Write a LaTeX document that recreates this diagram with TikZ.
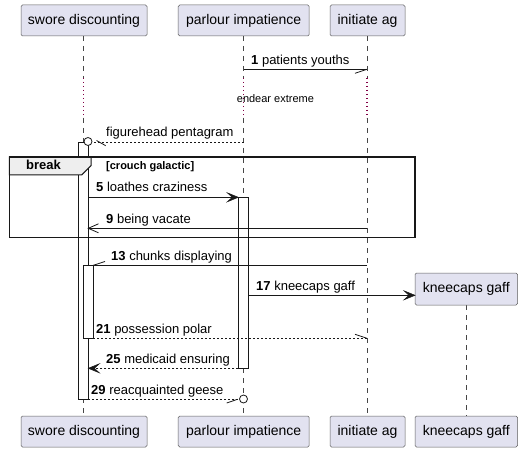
\documentclass[tikz,border=0pt]{standalone}
\usepackage{fontspec}
\setmainfont{Liberation Sans}
\definecolor{partfill}{HTML}{E2E2F0}
\definecolor{partline}{HTML}{181818}
\definecolor{tabfill}{HTML}{EEEEEE}
\definecolor{delaycol}{RGB}{130,0,70}
\begin{document}
\begin{tikzpicture}[x=1pt,y=-1pt,
  part/.style={draw=partline!70,fill=partfill,line width=0.5pt,rounded corners=1.5pt,inner sep=0pt,
    font=\fontsize{14}{16}\selectfont},
  life/.style={draw=partline!80,line width=0.5pt,dash pattern=on 5pt off 5pt},
  delayline/.style={draw=delaycol,line width=1.1pt,dash pattern=on 1.1pt off 2.9pt},
  actbox/.style={draw=partline,fill=white,line width=0.8pt,inner sep=0pt},
  msg/.style={draw=partline,line width=0.8pt},
  rmsg/.style={draw=partline,line width=0.8pt,dash pattern=on 2pt off 2pt},
  lbl/.style={anchor=base west,inner sep=0pt,font=\fontsize{13}{15}\selectfont},
  filledhead/.style={fill=partline,draw=partline,line width=0.5pt}
]
\useasboundingbox (0,0) rectangle (523,452);

% participants (top)
\node[part,minimum width=126pt,minimum height=31pt] (At) at (84,20.5) {swore discounting};
\node[part,minimum width=131pt,minimum height=31pt] (Bt) at (243.7,20.5) {parlour impatience};
\node[part,minimum width=75pt,minimum height=31pt] (Ct) at (367.5,20.5) {initiate ag};
% participants (bottom)
\node[part,minimum width=126pt,minimum height=31pt] (Ab) at (84,431.5) {swore discounting};
\node[part,minimum width=131pt,minimum height=31pt] (Bb) at (243.7,431.5) {parlour impatience};
\node[part,minimum width=75pt,minimum height=31pt] (Cb) at (367.5,431.5) {initiate ag};
\node[part,minimum width=102.5pt,minimum height=31pt] (Db) at (466.3,431.5) {kneecaps gaff};

% lifeline coordinates
\coordinate (A1) at (83.5,36); \coordinate (A2) at (83.5,78); \coordinate (A3) at (83.5,118); \coordinate (A4) at (83.5,416);
\coordinate (B1) at (243.7,36); \coordinate (B2) at (243.7,78); \coordinate (B3) at (243.7,118); \coordinate (B4) at (243.7,416);
\coordinate (C1) at (367,36); \coordinate (C2) at (367,78); \coordinate (C3) at (367,118); \coordinate (C4) at (367,416);
\coordinate (D1) at (466,305); \coordinate (D4) at (466,416);

\draw[life] (A1) -- (A2); \draw[delayline] (A2) -- (A3); \draw[life] (A3) -- (A4);
\draw[life] (B1) -- (B2); \draw[delayline] (B2) -- (B3); \draw[life] (B3) -- (B4);
\draw[life] (C1) -- (C2); \draw[delayline] (C2) -- (C3); \draw[life] (C3) -- (C4);
\draw[life] (D1) -- (D4);

% created participant
\node[part,minimum width=102.5pt,minimum height=32pt] (Dt) at (466.3,289) {kneecaps gaff};

% delay text
\node[anchor=base west,inner sep=0pt,font=\fontsize{11}{13}\selectfont] (delay) at (236.7,102.5) {endear extreme};

% activations
\node[actbox,minimum width=10pt,minimum height=257pt] (actA) at (83.3,270.5) {};
\node[actbox,minimum width=10pt,minimum height=73pt] (actA2) at (88.3,301.8) {};
\node[actbox,minimum width=10pt,minimum height=171pt] (actB) at (243.3,282.8) {};

% break frame
\draw[fill=tabfill,draw=partline,line width=1pt] (9.3,157) -- (91,157) -- (91,165.7) -- (81.7,175) -- (9.3,175) -- cycle;
\draw[line width=1.6pt,draw=partline] (9.3,157) rectangle (415,237.3);
\node[anchor=base,inner sep=0pt,font=\bfseries\fontsize{13}{15}\selectfont] (brk) at (43.5,170) {break};
\node[anchor=base west,inner sep=0pt,font=\bfseries\fontsize{11}{13}\selectfont] (guard) at (106,170) {[crouch galactic]};

% message 1
\coordinate (m1s) at (243.7,69.3); \coordinate (m1e) at (367,69.3); \coordinate (m1h) at (355,73.3);
\draw[msg] (m1s) -- (m1e); \draw[msg] (m1e) -- (m1h);
\node[lbl] (t1) at (251,65) {\textbf{1} patients youths};

% figurehead pentagram
\coordinate (mfs) at (243.7,142); \coordinate (mfc) at (88,141.5); \coordinate (mfe) at (92,142);
\coordinate (mfh1) at (96.5,140.5); \coordinate (mfh2) at (105.7,145.7);
\draw[rmsg] (mfs) -- (mfe);
\draw[msg,fill=white] (mfc) circle (4pt);
\draw[msg] (mfh1) -- (mfh2);
\node[lbl] (tf) at (106,137) {figurehead pentagram};

% message 5
\coordinate (m5s) at (88.3,197.3); \coordinate (m5e) at (238.3,197.3);
\draw[msg] (m5s) -- (236,197.3);
\draw[filledhead] (m5e) -- ++(-11,-4.5) -- ++(5,4.5) -- ++(-5,4.5) -- cycle;
\node[lbl] (t5) at (96,192) {\textbf{5} loathes craziness};

% message 9
\coordinate (m9s) at (367,228.3); \coordinate (m9e) at (88.3,228.3);
\draw[msg] (m9s) -- (m9e);
\draw[msg] (98.5,223.8) -- (m9e) -- (98.5,232.8);
\node[lbl] (t9) at (106,223) {\textbf{9} being vacate};

% message 13
\coordinate (m13s) at (367,265.3); \coordinate (m13e) at (93.3,265.3); \coordinate (m13h) at (105,261.5);
\draw[msg] (m13s) -- (m13e); \draw[msg] (m13e) -- (m13h);
\node[lbl] (t13) at (111,260) {\textbf{13} chunks displaying};

% message 17
\coordinate (m17s) at (248.3,295.3); \coordinate (m17e) at (415,295.3);
\draw[msg] (m17s) -- (412,295.3);
\draw[filledhead] (m17e) -- ++(-11,-4.5) -- ++(5,4.5) -- ++(-5,4.5) -- cycle;
\node[lbl] (t17) at (256,290) {\textbf{17} kneecaps gaff};

% message 21
\coordinate (m21s) at (93.3,338.3); \coordinate (m21e) at (367,338.3); \coordinate (m21h) at (355,334.3);
\draw[rmsg] (m21s) -- (m21e); \draw[msg] (m21e) -- (m21h);
\node[lbl] (t21) at (96,333) {\textbf{21} possession polar};

% message 25
\coordinate (m25s) at (238.3,368.3); \coordinate (m25e) at (88.3,368.3);
\draw[rmsg] (m25s) -- (91,368.3);
\draw[filledhead] (m25e) -- ++(11,-4.5) -- ++(-5,4.5) -- ++(5,4.5) -- cycle;
\node[lbl] (t25) at (106,363) {\textbf{25} medicaid ensuring};

% message 29
\coordinate (m29s) at (88.3,399); \coordinate (m29c) at (243.5,399); \coordinate (m29e) at (239.5,399);
\coordinate (m29h1) at (226.7,403); \coordinate (m29h2) at (237.5,399.3);
\draw[rmsg] (m29s) -- (m29e);
\draw[msg] (m29h1) -- (m29h2);
\draw[msg,fill=white] (m29c) circle (4pt);
\node[lbl] (t29) at (91,394) {\textbf{29} reacquainted geese};

\end{tikzpicture}
\end{document}
